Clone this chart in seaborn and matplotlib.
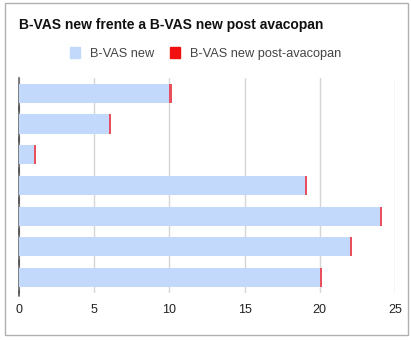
import pandas as pd
import matplotlib.pyplot as plt
import matplotlib.patches as mpatches
import seaborn as sns

sns.set_style("white")
plt.rcParams["font.family"] = ["Liberation Sans", "DejaVu Sans"]

patients = ["P1", "P2", "P3", "P4", "P5", "P6", "P7"]
bvas_new = [10, 6, 1, 19, 24, 22, 20]
bvas_post = [0.15, 0.15, 0.15, 0.15, 0.15, 0.15, 0.15]

df = pd.DataFrame({"patient": patients, "new": bvas_new, "post": bvas_post})
df["total"] = df["new"] + df["post"]

blue = "#c2d9fb"
red = "#f01010"

fig = plt.figure(figsize=(4.11, 3.40), dpi=100)
ax = fig.add_axes([0.046, 0.138, 0.915, 0.633])

# stacked: red totals underneath, blue on top
sns.barplot(data=df, y="patient", x="total", color="#e85060", width=0.62,
            saturation=1, ax=ax, zorder=2, linewidth=0)
sns.barplot(data=df, y="patient", x="new", color=blue, width=0.62,
            saturation=1, ax=ax, zorder=3, linewidth=0)

ax.set_xlim(0, 25)
ax.set_ylim(6.5, -0.5)
ax.set_xticks([0, 5, 10, 15, 20, 25])
ax.set_yticks([])
ax.set_xlabel("")
ax.set_ylabel("")
ax.grid(axis="x", color="#d6d6d6", linewidth=1, zorder=0)
ax.set_axisbelow(True)
for s in ["top", "right", "bottom"]:
    ax.spines[s].set_visible(False)
ax.spines["left"].set_color("#666666")
ax.spines["left"].set_linewidth(1.2)
ax.tick_params(axis="x", length=0, pad=8, labelsize=9, labelcolor="#222222")

# small dark ticks between categories on the left axis
for b in [0.5, 1.5, 2.5, 3.5, 4.5, 5.5, 6.5]:
    ax.plot([0.0, 0.0], [b - 0.08, b + 0.08], color="#555555", lw=1.2,
            clip_on=False, zorder=4)

fig.text(0.046, 0.925, "B-VAS new frente a B-VAS new post avacopan",
         fontsize=10, fontweight="bold", color="#111111", va="center")

handles = [mpatches.Patch(color=blue, label="B-VAS new"),
           mpatches.Patch(color=red, label="B-VAS new post-avacopan")]
fig.legend(handles=handles, loc="center", bbox_to_anchor=(0.50, 0.843), ncol=2,
           frameon=False, fontsize=9.2, handlelength=0.8, handleheight=1.0,
           columnspacing=1.2, handletextpad=0.8, labelcolor="#444444")

# outer chart frame
fig.patches.append(mpatches.Rectangle((0.012, 0.015), 0.98, 0.975,
                                      transform=fig.transFigure, fill=False,
                                      edgecolor="#b0b0b0", linewidth=1))

plt.savefig("out.png", dpi=100)
